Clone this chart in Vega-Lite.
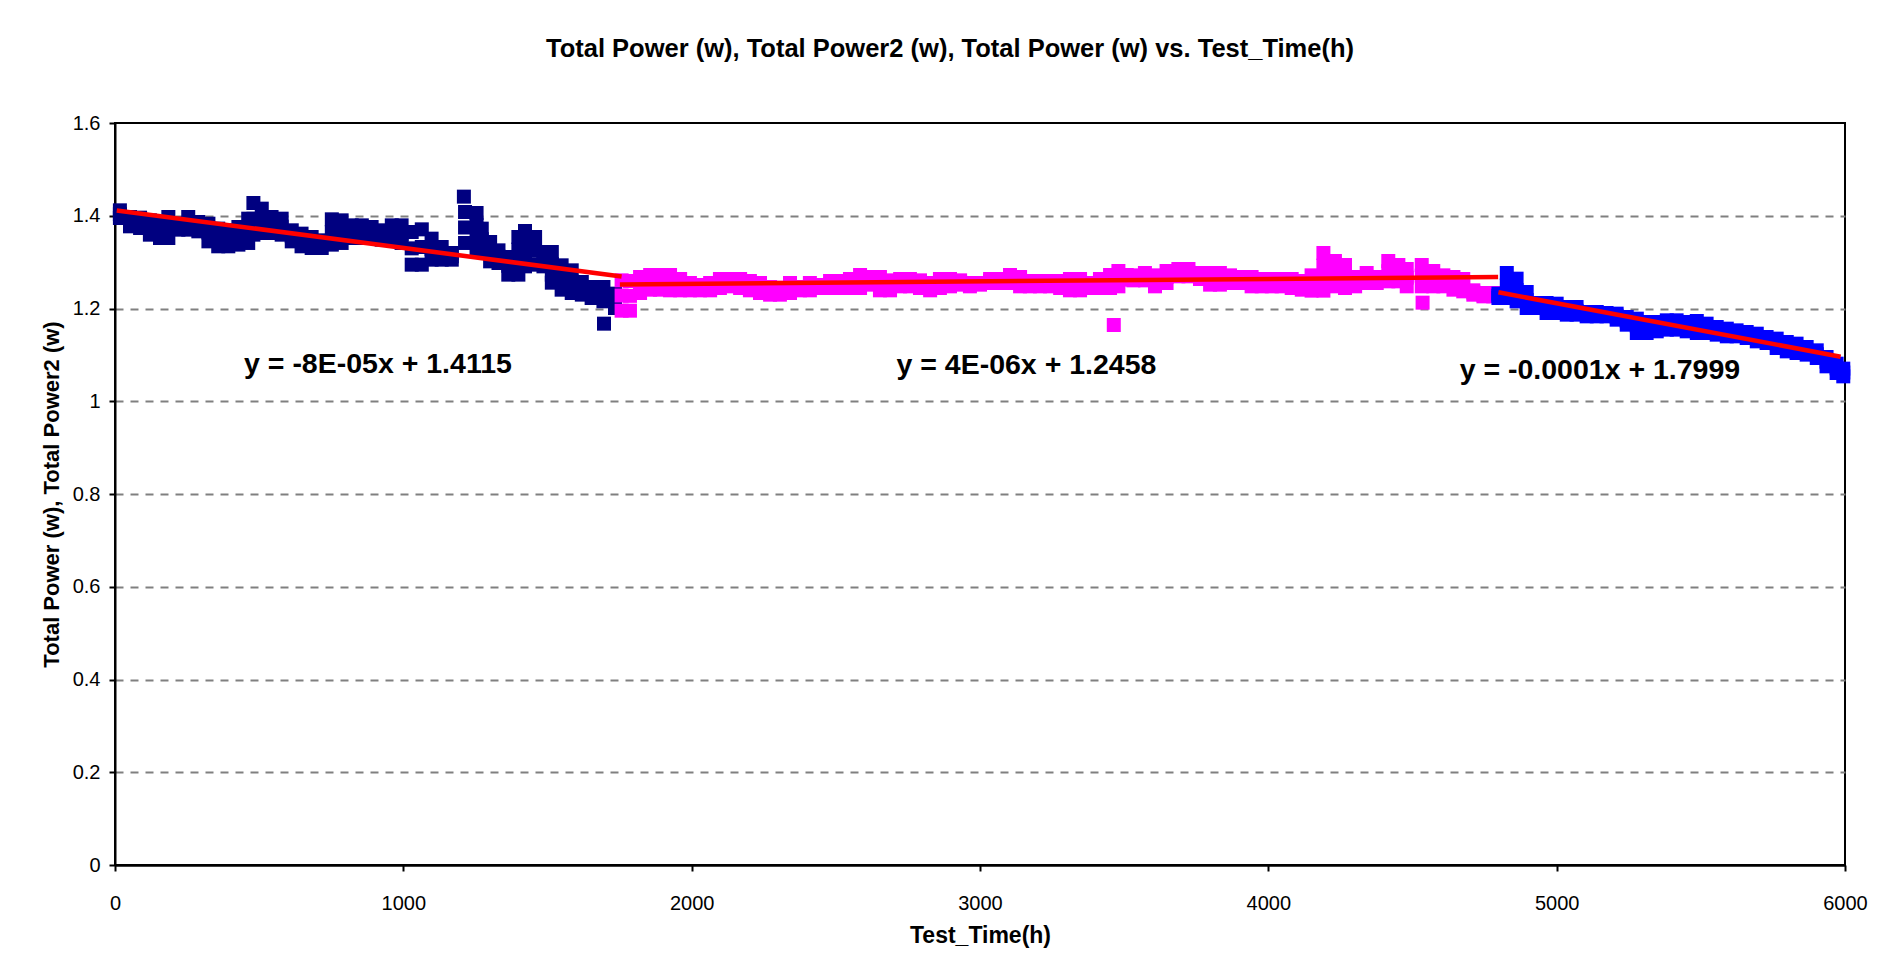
{
  "$schema": "https://vega.github.io/schema/vega-lite/v6.json",
  "autosize": {"type": "none"},
  "padding": {"left": 115, "top": 123, "right": 50, "bottom": 107},
  "width": 1730,
  "height": 742,
  "background": "white",
  "config": {"font": "Liberation Sans", "view": {"stroke": "black", "strokeWidth": 2}},
  "title": {"text": "Total Power (w), Total Power2 (w), Total Power (w) vs. Test_Time(h)", "fontSize": 25.5, "fontWeight": "bold", "font": "Liberation Sans", "color": "black", "anchor": "middle", "dx": -30, "offset": 51},
  "datasets": {
    "navy": [
      {"time":17,"power":1.4117},{"time":17,"power":1.4034},{"time":17,"power":1.3952},
      {"time":52,"power":1.3973},{"time":52,"power":1.3872},{"time":52,"power":1.3772},
      {"time":87,"power":1.3959},{"time":87,"power":1.3847},{"time":87,"power":1.3736},
      {"time":121,"power":1.3901},{"time":121,"power":1.3747},{"time":121,"power":1.3592},
      {"time":156,"power":1.3865},{"time":156,"power":1.3693},{"time":156,"power":1.352},
      {"time":185,"power":1.3973},{"time":185,"power":1.3747},{"time":185,"power":1.352},
      {"time":220,"power":1.3829},{"time":220,"power":1.3765},{"time":220,"power":1.37},
      {"time":254,"power":1.3973},{"time":254,"power":1.3837},{"time":254,"power":1.37},
      {"time":289,"power":1.3865},{"time":289,"power":1.3765},{"time":289,"power":1.3664},
      {"time":324,"power":1.3829},{"time":324,"power":1.3639},{"time":324,"power":1.3448},
      {"time":358,"power":1.3722},{"time":358,"power":1.3531},{"time":358,"power":1.3341},
      {"time":393,"power":1.3686},{"time":393,"power":1.3513},{"time":393,"power":1.3341},
      {"time":428,"power":1.3758},{"time":428,"power":1.3567},{"time":428,"power":1.3377},
      {"time":462,"power":1.3937},{"time":462,"power":1.3675},{"time":462,"power":1.3413},
      {"time":480,"power":1.4275},{"time":480,"power":1.3934},{"time":480,"power":1.3592},
      {"time":509,"power":1.4153},{"time":509,"power":1.389},{"time":509,"power":1.3628},
      {"time":543,"power":1.3973},{"time":543,"power":1.3801},{"time":543,"power":1.3628},
      {"time":578,"power":1.3937},{"time":578,"power":1.3765},{"time":578,"power":1.3592},
      {"time":613,"power":1.3686},{"time":613,"power":1.3567},{"time":613,"power":1.3448},
      {"time":647,"power":1.3614},{"time":647,"power":1.3477},{"time":647,"power":1.3341},
      {"time":682,"power":1.3542},{"time":682,"power":1.3423},{"time":682,"power":1.3305},
      {"time":717,"power":1.347},{"time":717,"power":1.3387},{"time":717,"power":1.3305},
      {"time":752,"power":1.3923},{"time":752,"power":1.365},{"time":752,"power":1.3377},
      {"time":786,"power":1.3901},{"time":786,"power":1.3657},{"time":786,"power":1.3413},
      {"time":821,"power":1.3793},{"time":821,"power":1.3657},{"time":821,"power":1.352},
      {"time":856,"power":1.3793},{"time":856,"power":1.3657},{"time":856,"power":1.352},
      {"time":890,"power":1.3758},{"time":890,"power":1.3639},{"time":890,"power":1.352},
      {"time":925,"power":1.3686},{"time":925,"power":1.3585},{"time":925,"power":1.3484},
      {"time":960,"power":1.3793},{"time":960,"power":1.3639},{"time":960,"power":1.3484},
      {"time":994,"power":1.3793},{"time":994,"power":1.3603},{"time":994,"power":1.3413},
      {"time":1029,"power":1.365},{"time":1029,"power":1.3297},{"time":1029,"power":1.2945},
      {"time":1064,"power":1.3707},{"time":1064,"power":1.3326},{"time":1064,"power":1.2945},
      {"time":1098,"power":1.3506},{"time":1098,"power":1.328},{"time":1098,"power":1.3053},
      {"time":1133,"power":1.3326},{"time":1133,"power":1.319},{"time":1133,"power":1.3053},
      {"time":1168,"power":1.3197},{"time":1168,"power":1.3125},{"time":1168,"power":1.3053},
      {"time":1210,"power":1.4412},
      {"time":1214,"power":1.4081},{"time":1214,"power":1.3747},{"time":1214,"power":1.3413},
      {"time":1254,"power":1.4059},{"time":1254,"power":1.3808},{"time":1254,"power":1.3556},{"time":1254,"power":1.3305},
      {"time":1272,"power":1.3722},{"time":1272,"power":1.3495},{"time":1272,"power":1.3269},
      {"time":1301,"power":1.3434},{"time":1301,"power":1.3226},{"time":1301,"power":1.3017},
      {"time":1330,"power":1.3254},{"time":1330,"power":1.3118},{"time":1330,"power":1.2981},
      {"time":1364,"power":1.3111},{"time":1364,"power":1.292},{"time":1364,"power":1.273},
      {"time":1399,"power":1.3542},{"time":1399,"power":1.3271},{"time":1399,"power":1.3001},{"time":1399,"power":1.273},
      {"time":1422,"power":1.3671},{"time":1422,"power":1.3417},{"time":1422,"power":1.3163},{"time":1422,"power":1.2909},
      {"time":1457,"power":1.3542},{"time":1457,"power":1.3244},{"time":1457,"power":1.2945},
      {"time":1486,"power":1.3218},{"time":1486,"power":1.3064},{"time":1486,"power":1.2909},
      {"time":1515,"power":1.3218},{"time":1515,"power":1.296},{"time":1515,"power":1.273},{"time":1515,"power":1.2557},
      {"time":1549,"power":1.2931},{"time":1549,"power":1.2669},{"time":1549,"power":1.2406},
      {"time":1584,"power":1.2823},{"time":1584,"power":1.2579},{"time":1584,"power":1.2334},
      {"time":1619,"power":1.2572},{"time":1619,"power":1.2435},{"time":1619,"power":1.2299},
      {"time":1653,"power":1.2464},{"time":1653,"power":1.2345},{"time":1653,"power":1.2227},
      {"time":1694,"power":1.2464},{"time":1694,"power":1.2309},{"time":1694,"power":1.2155},
      {"time":1696,"power":1.1673},
      {"time":1734,"power":1.232},{"time":1734,"power":1.2165},{"time":1734,"power":1.2011}
    ],
    "magenta": [
      {"time":1757,"power":1.2607},{"time":1757,"power":1.228},{"time":1757,"power":1.1953},
      {"time":1786,"power":1.2593},{"time":1786,"power":1.2273},{"time":1786,"power":1.1953},
      {"time":1821,"power":1.2679},{"time":1821,"power":1.2507},{"time":1821,"power":1.2334},
      {"time":1856,"power":1.2722},{"time":1856,"power":1.2564},{"time":1856,"power":1.2406},
      {"time":1890,"power":1.2722},{"time":1890,"power":1.2564},{"time":1890,"power":1.2406},
      {"time":1925,"power":1.2722},{"time":1925,"power":1.2557},{"time":1925,"power":1.2392},
      {"time":1960,"power":1.2636},{"time":1960,"power":1.2514},{"time":1960,"power":1.2392},
      {"time":1994,"power":1.255},{"time":1994,"power":1.2471},{"time":1994,"power":1.2392},
      {"time":2029,"power":1.2507},{"time":2029,"power":1.2449},{"time":2029,"power":1.2392},
      {"time":2064,"power":1.255},{"time":2064,"power":1.2471},{"time":2064,"power":1.2392},
      {"time":2098,"power":1.2636},{"time":2098,"power":1.2539},{"time":2098,"power":1.2442},
      {"time":2133,"power":1.2636},{"time":2133,"power":1.2557},{"time":2133,"power":1.2478},
      {"time":2168,"power":1.2636},{"time":2168,"power":1.2539},{"time":2168,"power":1.2442},
      {"time":2202,"power":1.2593},{"time":2202,"power":1.2492},{"time":2202,"power":1.2392},
      {"time":2237,"power":1.255},{"time":2237,"power":1.2442},{"time":2237,"power":1.2334},
      {"time":2272,"power":1.2464},{"time":2272,"power":1.2381},{"time":2272,"power":1.2298},
      {"time":2306,"power":1.2449},{"time":2306,"power":1.2374},{"time":2306,"power":1.2298},
      {"time":2341,"power":1.255},{"time":2341,"power":1.2442},{"time":2341,"power":1.2334},
      {"time":2376,"power":1.2464},{"time":2376,"power":1.2428},{"time":2376,"power":1.2392},
      {"time":2410,"power":1.255},{"time":2410,"power":1.2471},{"time":2410,"power":1.2392},
      {"time":2445,"power":1.2507},{"time":2445,"power":1.2474},{"time":2445,"power":1.2442},
      {"time":2480,"power":1.2593},{"time":2480,"power":1.2518},{"time":2480,"power":1.2442},
      {"time":2515,"power":1.2593},{"time":2515,"power":1.2518},{"time":2515,"power":1.2442},
      {"time":2549,"power":1.2636},{"time":2549,"power":1.2539},{"time":2549,"power":1.2442},
      {"time":2584,"power":1.2722},{"time":2584,"power":1.2582},{"time":2584,"power":1.2442},
      {"time":2619,"power":1.2679},{"time":2619,"power":1.2597},{"time":2619,"power":1.2514},
      {"time":2653,"power":1.2679},{"time":2653,"power":1.2536},{"time":2653,"power":1.2392},
      {"time":2688,"power":1.2607},{"time":2688,"power":1.25},{"time":2688,"power":1.2392},
      {"time":2723,"power":1.2636},{"time":2723,"power":1.2557},{"time":2723,"power":1.2478},
      {"time":2757,"power":1.2636},{"time":2757,"power":1.2557},{"time":2757,"power":1.2478},
      {"time":2792,"power":1.2607},{"time":2792,"power":1.2525},{"time":2792,"power":1.2442},
      {"time":2827,"power":1.255},{"time":2827,"power":1.2471},{"time":2827,"power":1.2392},
      {"time":2861,"power":1.2636},{"time":2861,"power":1.2539},{"time":2861,"power":1.2442},
      {"time":2896,"power":1.2636},{"time":2896,"power":1.2557},{"time":2896,"power":1.2478},
      {"time":2931,"power":1.2607},{"time":2931,"power":1.2561},{"time":2931,"power":1.2514},
      {"time":2965,"power":1.255},{"time":2965,"power":1.2514},{"time":2965,"power":1.2478},
      {"time":3000,"power":1.255},{"time":3000,"power":1.2532},{"time":3000,"power":1.2514},
      {"time":3035,"power":1.2636},{"time":3035,"power":1.2593},{"time":3035,"power":1.255},
      {"time":3069,"power":1.2636},{"time":3069,"power":1.2593},{"time":3069,"power":1.255},
      {"time":3104,"power":1.2722},{"time":3104,"power":1.2636},{"time":3104,"power":1.255},
      {"time":3139,"power":1.2679},{"time":3139,"power":1.2579},{"time":3139,"power":1.2478},
      {"time":3173,"power":1.2593},{"time":3173,"power":1.2536},{"time":3173,"power":1.2478},
      {"time":3208,"power":1.2593},{"time":3208,"power":1.2536},{"time":3208,"power":1.2478},
      {"time":3243,"power":1.2593},{"time":3243,"power":1.2536},{"time":3243,"power":1.2478},
      {"time":3278,"power":1.2593},{"time":3278,"power":1.2518},{"time":3278,"power":1.2442},
      {"time":3312,"power":1.2636},{"time":3312,"power":1.2514},{"time":3312,"power":1.2392},
      {"time":3347,"power":1.2636},{"time":3347,"power":1.2514},{"time":3347,"power":1.2392},
      {"time":3382,"power":1.255},{"time":3382,"power":1.2496},{"time":3382,"power":1.2442},
      {"time":3416,"power":1.2636},{"time":3416,"power":1.2539},{"time":3416,"power":1.2442},
      {"time":3451,"power":1.2722},{"time":3451,"power":1.2582},{"time":3451,"power":1.2442},
      {"time":3464,"power":1.1644},
      {"time":3480,"power":1.2809},{"time":3480,"power":1.2643},{"time":3480,"power":1.2478},
      {"time":3509,"power":1.2722},{"time":3509,"power":1.2672},{"time":3509,"power":1.2622},
      {"time":3532,"power":1.2715},{"time":3532,"power":1.2661},{"time":3532,"power":1.2607},
      {"time":3572,"power":1.2766},{"time":3572,"power":1.2686},{"time":3572,"power":1.2607},
      {"time":3607,"power":1.2715},{"time":3607,"power":1.2597},{"time":3607,"power":1.2478},
      {"time":3647,"power":1.2809},{"time":3647,"power":1.2679},{"time":3647,"power":1.255},
      {"time":3688,"power":1.2852},{"time":3688,"power":1.2773},{"time":3688,"power":1.2694},
      {"time":3723,"power":1.2852},{"time":3723,"power":1.2773},{"time":3723,"power":1.2694},
      {"time":3763,"power":1.2766},{"time":3763,"power":1.2701},{"time":3763,"power":1.2636},
      {"time":3798,"power":1.2766},{"time":3798,"power":1.264},{"time":3798,"power":1.2514},
      {"time":3832,"power":1.2766},{"time":3832,"power":1.264},{"time":3832,"power":1.2514},
      {"time":3867,"power":1.2715},{"time":3867,"power":1.2633},{"time":3867,"power":1.255},
      {"time":3902,"power":1.2679},{"time":3902,"power":1.2615},{"time":3902,"power":1.255},
      {"time":3942,"power":1.2679},{"time":3942,"power":1.2579},{"time":3942,"power":1.2478},
      {"time":3977,"power":1.2636},{"time":3977,"power":1.2557},{"time":3977,"power":1.2478},
      {"time":4012,"power":1.2636},{"time":4012,"power":1.2557},{"time":4012,"power":1.2478},
      {"time":4046,"power":1.2636},{"time":4046,"power":1.2557},{"time":4046,"power":1.2478},
      {"time":4081,"power":1.2636},{"time":4081,"power":1.2539},{"time":4081,"power":1.2442},
      {"time":4116,"power":1.2593},{"time":4116,"power":1.25},{"time":4116,"power":1.2406},
      {"time":4150,"power":1.2715},{"time":4150,"power":1.255},{"time":4150,"power":1.2385},
      {"time":4191,"power":1.3197},{"time":4191,"power":1.2924},{"time":4191,"power":1.2651},{"time":4191,"power":1.2385},
      {"time":4231,"power":1.3024},{"time":4231,"power":1.2751},{"time":4231,"power":1.2478},
      {"time":4266,"power":1.2938},{"time":4266,"power":1.269},{"time":4266,"power":1.2442},
      {"time":4301,"power":1.2679},{"time":4301,"power":1.2579},{"time":4301,"power":1.2478},
      {"time":4341,"power":1.2766},{"time":4341,"power":1.2658},{"time":4341,"power":1.255},
      {"time":4376,"power":1.2679},{"time":4376,"power":1.2615},{"time":4376,"power":1.255},
      {"time":4416,"power":1.3024},{"time":4416,"power":1.2805},{"time":4416,"power":1.2586},
      {"time":4451,"power":1.2938},{"time":4451,"power":1.2762},{"time":4451,"power":1.2586},
      {"time":4480,"power":1.2852},{"time":4480,"power":1.2665},{"time":4480,"power":1.2478},
      {"time":4532,"power":1.2938},{"time":4532,"power":1.2708},{"time":4532,"power":1.2478},
      {"time":4535,"power":1.2126},
      {"time":4572,"power":1.2809},{"time":4572,"power":1.2643},{"time":4572,"power":1.2478},
      {"time":4607,"power":1.2715},{"time":4607,"power":1.2597},{"time":4607,"power":1.2478},
      {"time":4642,"power":1.2679},{"time":4642,"power":1.2543},{"time":4642,"power":1.2406},
      {"time":4676,"power":1.2636},{"time":4676,"power":1.2503},{"time":4676,"power":1.237},
      {"time":4711,"power":1.2392},{"time":4711,"power":1.2345},{"time":4711,"power":1.2298},
      {"time":4746,"power":1.2334},{"time":4746,"power":1.2298},{"time":4746,"power":1.2262},
      {"time":4780,"power":1.2334},{"time":4780,"power":1.2298},{"time":4780,"power":1.2262}
    ],
    "blue": [
      {"time":4798,"power":1.232},{"time":4798,"power":1.2273},{"time":4798,"power":1.2226},
      {"time":4827,"power":1.2766},{"time":4827,"power":1.2496},{"time":4827,"power":1.2226},
      {"time":4861,"power":1.2643},{"time":4861,"power":1.2399},{"time":4861,"power":1.2155},
      {"time":4896,"power":1.2356},{"time":4896,"power":1.2183},{"time":4896,"power":1.2011},
      {"time":4931,"power":1.2119},{"time":4931,"power":1.2065},{"time":4931,"power":1.2011},
      {"time":4965,"power":1.2119},{"time":4965,"power":1.2011},{"time":4965,"power":1.1903},
      {"time":5000,"power":1.2104},{"time":5000,"power":1.2004},{"time":5000,"power":1.1903},
      {"time":5035,"power":1.2032},{"time":5035,"power":1.195},{"time":5035,"power":1.1867},
      {"time":5069,"power":1.2032},{"time":5069,"power":1.195},{"time":5069,"power":1.1867},
      {"time":5104,"power":1.1925},{"time":5104,"power":1.1878},{"time":5104,"power":1.1831},
      {"time":5139,"power":1.1925},{"time":5139,"power":1.1878},{"time":5139,"power":1.1831},
      {"time":5173,"power":1.1903},{"time":5173,"power":1.1867},{"time":5173,"power":1.1831},
      {"time":5208,"power":1.1889},{"time":5208,"power":1.1824},{"time":5208,"power":1.1759},
      {"time":5243,"power":1.1817},{"time":5243,"power":1.1734},{"time":5243,"power":1.1651},
      {"time":5278,"power":1.1781},{"time":5278,"power":1.1626},{"time":5278,"power":1.1472},
      {"time":5312,"power":1.1709},{"time":5312,"power":1.159},{"time":5312,"power":1.1472},
      {"time":5347,"power":1.1709},{"time":5347,"power":1.1608},{"time":5347,"power":1.1508},
      {"time":5382,"power":1.1745},{"time":5382,"power":1.1644},{"time":5382,"power":1.1544},
      {"time":5416,"power":1.1745},{"time":5416,"power":1.1644},{"time":5416,"power":1.1544},
      {"time":5451,"power":1.1709},{"time":5451,"power":1.1608},{"time":5451,"power":1.1508},
      {"time":5486,"power":1.1731},{"time":5486,"power":1.1601},{"time":5486,"power":1.1472},
      {"time":5520,"power":1.1673},{"time":5520,"power":1.1572},{"time":5520,"power":1.1472},
      {"time":5555,"power":1.1601},{"time":5555,"power":1.1519},{"time":5555,"power":1.1436},
      {"time":5590,"power":1.1565},{"time":5590,"power":1.1483},{"time":5590,"power":1.14},
      {"time":5624,"power":1.1529},{"time":5624,"power":1.1465},{"time":5624,"power":1.14},
      {"time":5659,"power":1.1493},{"time":5659,"power":1.1429},{"time":5659,"power":1.1364},
      {"time":5694,"power":1.1457},{"time":5694,"power":1.1375},{"time":5694,"power":1.1292},
      {"time":5728,"power":1.1386},{"time":5728,"power":1.1321},{"time":5728,"power":1.1256},
      {"time":5763,"power":1.135},{"time":5763,"power":1.1249},{"time":5763,"power":1.1148},
      {"time":5798,"power":1.1278},{"time":5798,"power":1.1177},{"time":5798,"power":1.1076},
      {"time":5832,"power":1.1242},{"time":5832,"power":1.1141},{"time":5832,"power":1.104},
      {"time":5867,"power":1.117},{"time":5867,"power":1.1087},{"time":5867,"power":1.1005},
      {"time":5902,"power":1.1098},{"time":5902,"power":1.1015},{"time":5902,"power":1.0933},
      {"time":5936,"power":1.0954},{"time":5936,"power":1.0854},{"time":5936,"power":1.0753},
      {"time":5971,"power":1.081},{"time":5971,"power":1.071},{"time":5971,"power":1.0609},
      {"time":5994,"power":1.0703},{"time":5994,"power":1.062},{"time":5994,"power":1.0537}
    ],
    "trend": [
      {"segment":"a","time":6,"power":1.4115},{"segment":"a","time":1757,"power":1.269},
      {"segment":"b","time":1751,"power":1.2518},{"segment":"b","time":4797,"power":1.268},
      {"segment":"c","time":4798,"power":1.2349},{"segment":"c","time":5985,"power":1.0961}
    ],
    "labels": [
      {"time":912,"power":1.0609,"label":"y = -8E-05x + 1.4115"},
      {"time":3161,"power":1.0588,"label":"y = 4E-06x + 1.2458"},
      {"time":5150,"power":1.048,"label":"y = -0.0001x + 1.7999"}
    ]
  },
  "encoding": {
    "x": {"field": "time", "type": "quantitative", "scale": {"domain": [0, 6000], "nice": false},
      "axis": {"title": "Test_Time(h)", "values": [0,1000,2000,3000,4000,5000,6000], "format": "d", "grid": false,
        "domainColor": "black", "domainWidth": 2.5, "tickColor": "black", "tickSize": 6, "tickWidth": 2,
        "labelFont": "Liberation Sans", "labelFontSize": 20, "labelColor": "black", "labelPadding": 22, "labelFlush": false,
        "titleFont": "Liberation Sans", "titleFontSize": 23, "titleFontWeight": "bold", "titleColor": "black", "titlePadding": 11}},
    "y": {"field": "power", "type": "quantitative", "scale": {"domain": [0, 1.6], "nice": false},
      "axis": {"title": "Total Power (w), Total Power2 (w)", "values": [0,0.2,0.4,0.6,0.8,1,1.2,1.4,1.6], "format": "~g",
        "grid": true, "gridColor": "#808080", "gridDash": [8,7], "gridWidth": 2,
        "gridOpacity": {"condition": {"test": "datum.value >= 1.59 || datum.value <= 0.01", "value": 0}, "value": 1},
        "domainColor": "black", "domainWidth": 2, "tickColor": "black", "tickSize": 6, "tickWidth": 2,
        "labelFont": "Liberation Sans", "labelFontSize": 20, "labelColor": "black", "labelPadding": 9,
        "titleFont": "Liberation Sans", "titleFontSize": 22, "titleFontWeight": "bold", "titleColor": "black",
        "titleX": -57, "titleY": 371, "titleBaseline": "alphabetic"}}
  },
  "layer": [
    {"data": {"name": "navy"}, "mark": {"type": "square", "size": 196, "filled": true, "opacity": 1, "color": "#000080"}},
    {"data": {"name": "magenta"}, "mark": {"type": "square", "size": 196, "filled": true, "opacity": 1, "color": "#FF00FF"}},
    {"data": {"name": "blue"}, "mark": {"type": "square", "size": 196, "filled": true, "opacity": 1, "color": "#0000FF"}},
    {"data": {"name": "trend"}, "mark": {"type": "line", "color": "#FF0000", "strokeWidth": 4.5}, "encoding": {"detail": {"field": "segment", "type": "nominal"}}},
    {"data": {"name": "labels"}, "mark": {"type": "text", "font": "Liberation Sans", "fontSize": 28.5, "fontWeight": "bold", "color": "black", "align": "center", "baseline": "alphabetic"}, "encoding": {"text": {"field": "label", "type": "nominal"}}}
  ]
}
